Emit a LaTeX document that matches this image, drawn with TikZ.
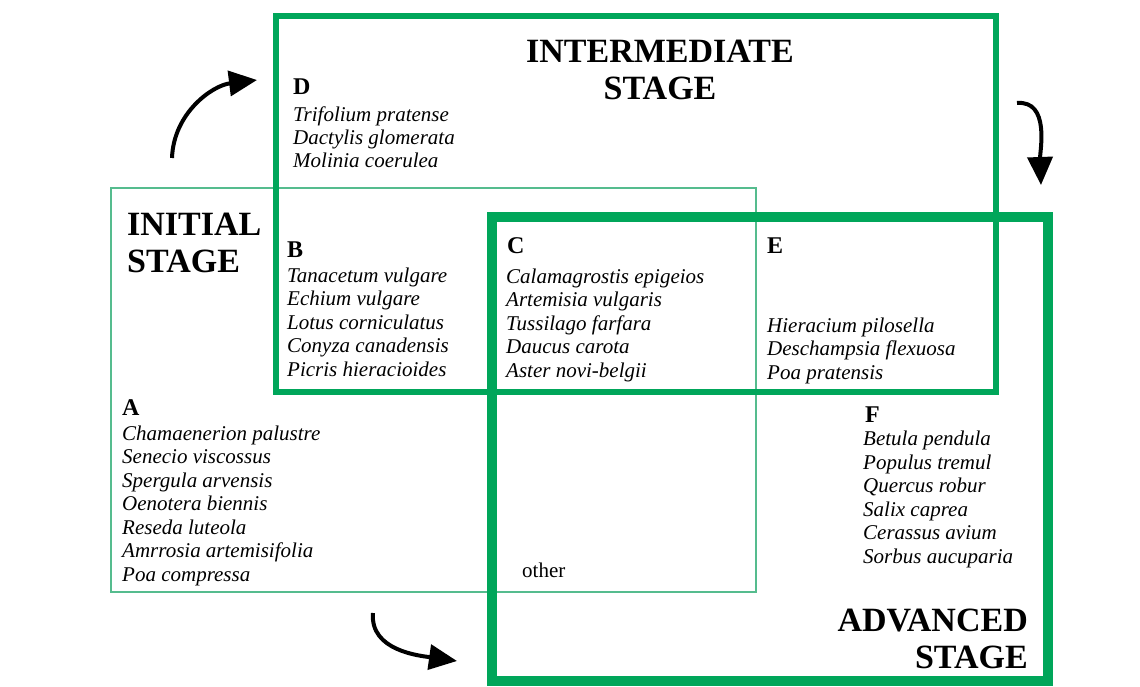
\documentclass[tikz,border=0pt]{standalone}
\usepackage{fontspec}
\setmainfont{Liberation Serif}
\usetikzlibrary{arrows.meta,positioning}
\definecolor{stagegreen}{RGB}{0,166,90}
\definecolor{palegreen}{RGB}{85,188,142}
\tikzset{
    stagebox/.style={draw=stagegreen},
    stagename/.style={font=\fontsize{34}{37}\selectfont\bfseries, inner sep=0pt, anchor=base},
    grouplbl/.style={font=\fontsize{24}{26}\selectfont\bfseries, anchor=base west, inner sep=0pt},
    species/.style={font=\fontsize{21}{23.5}\selectfont\itshape, align=left, anchor=base west, inner sep=0pt},
    succession/.style={-{Triangle[length=28pt,width=25pt]}, line width=4pt}
}

\begin{document}
\begin{tikzpicture}[x=1pt,y=-1pt]
        \useasboundingbox (0,0) rectangle (1140,687);
        % The three stage boxes
        \draw[palegreen,line width=2pt] (111,188) rectangle (756,592);
        \draw[stagebox,line width=6pt] (276,16) rectangle (996,392);
        \draw[stagebox,line width=10pt] (492,217) rectangle (1048,681);
        % Stage names (anchored at the baseline of their last line)
        \node[stagename,align=left,anchor=base west] (initial) at (127,272) {INITIAL\\STAGE};
        \node[stagename,align=center] (intermediate) at (660,100) {INTERMEDIATE\\STAGE};
        \node[stagename,align=right,anchor=base east] (advanced) at (1028,668) {ADVANCED\\STAGE};
        % Species groups
        \node[grouplbl] (lblD) at (293,95) {D};
        \node[species] (grpD) at (293,168) {Trifolium pratense\\Dactylis glomerata\\Molinia coerulea};
        \node[grouplbl] (lblB) at (287,257) {B};
        \node[species] (grpB) at (287,376) {Tanacetum vulgare\\Echium vulgare\\Lotus corniculatus\\Conyza canadensis\\Picris hieracioides};
        \node[grouplbl] (lblC) at (507,253) {C};
        \node[species] (grpC) at (506,377) {Calamagrostis epigeios\\Artemisia vulgaris\\Tussilago farfara\\Daucus carota\\Aster novi-belgii};
        \node[grouplbl] (lblE) at (767,253) {E};
        \node[species] (grpE) at (767,379) {Hieracium pilosella\\Deschampsia flexuosa\\Poa pratensis};
        \node[grouplbl] (lblA) at (122,415) {A};
        \node[species] (grpA) at (122,581) {Chamaenerion palustre\\Senecio viscossus\\Spergula arvensis\\Oenotera biennis\\Reseda luteola\\Amrrosia artemisifolia\\Poa compressa};
        \node[grouplbl] (lblF) at (865,422) {F};
        \node[species] (grpF) at (863,563) {Betula pendula\\Populus tremul\\Quercus robur\\Salix caprea\\Cerassus avium\\Sorbus aucuparia};
        \node[species,font=\fontsize{21}{23.5}\selectfont] (other) at (522,577) {other};
        % Succession arrows
        \coordinate (upS) at (172,158);
        \coordinate (upE) at (257,80);
        \coordinate (rightS) at (1017,103);
        \coordinate (rightE) at (1041,185);
        \coordinate (downS) at (373,613);
        \coordinate (downE) at (457,661);
        \draw[succession] (upS) to[out=88,in=187] (upE);
        \draw[succession] (rightS) to[out=5,in=92] (rightE);
        \draw[succession] (downS) to[out=-95,in=172] (downE);
    \end{tikzpicture}
\end{document}
